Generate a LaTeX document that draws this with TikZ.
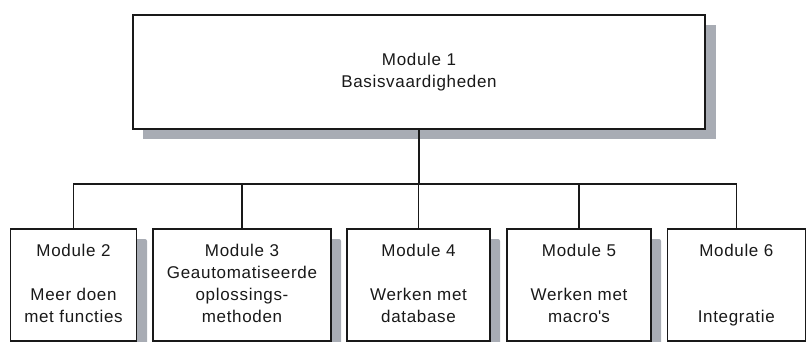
\documentclass[tikz,border=0pt]{standalone}
\usepackage{fontspec}
\setmainfont{Liberation Sans}[LetterSpace=4]
\definecolor{shadowgray}{RGB}{168,172,180}
\definecolor{inkdark}{RGB}{25,25,25}
\begin{document}
\begin{tikzpicture}[x=1pt,y=-1pt,
  modbox/.style={draw=inkdark,line width=1.2pt,fill=white,rectangle,inner sep=0pt,
    align=center,text=inkdark,font=\fontsize{17pt}{22pt}\selectfont,
    execute at begin node=\vphantom{dg},execute at end node=\vphantom{dg}},
  link/.style={draw=inkdark,line width=1.1pt}]
\useasboundingbox (0,0) rectangle (806,342);
\clip (0,0) rectangle (806,342);
% shadows
\fill[shadowgray] (143,25) rectangle (716,139);
\fill[shadowgray,rounded corners=2pt] (20,239) rectangle (147,352);
\fill[shadowgray,rounded corners=2pt] (163,239) rectangle (341,352);
\fill[shadowgray,rounded corners=2pt] (357,239) rectangle (500,352);
\fill[shadowgray,rounded corners=2pt] (517,239) rectangle (661,352);
% boxes
\node[modbox,minimum width=572pt,minimum height=114pt] (m1) at (419,72) {Module 1\\Basisvaardigheden};
\node[modbox,minimum width=126pt,minimum height=112pt] (m2) at (73.5,285) {Module 2\\[22pt]Meer doen\\met functies};
\node[modbox,minimum width=178pt,minimum height=112pt] (m3) at (242,285) {Module 3\\Geautomatiseerde\\oplossings-\\methoden};
\node[modbox,minimum width=143pt,minimum height=112pt] (m4) at (418.5,285) {Module 4\\[22pt]Werken met\\database};
\node[modbox,minimum width=144pt,minimum height=112pt] (m5) at (579,285) {Module 5\\[22pt]Werken met\\macro\textquotesingle s};
\node[modbox,minimum width=138pt,minimum height=112pt] (m6) at (736.3,285) {Module 6\\[44pt]Integratie};
% connectors
\coordinate (bus) at (419,184);
\draw[link] (m1.south) -- (bus);
\draw[link] (m2.north) |- (bus) -| (m6.north);
\draw[link] (m3.north) -- (m3.north |- bus);
\draw[link] (m4.north) -- (m4.north |- bus);
\draw[link] (m5.north) -- (m5.north |- bus);
\end{tikzpicture}
\end{document}
